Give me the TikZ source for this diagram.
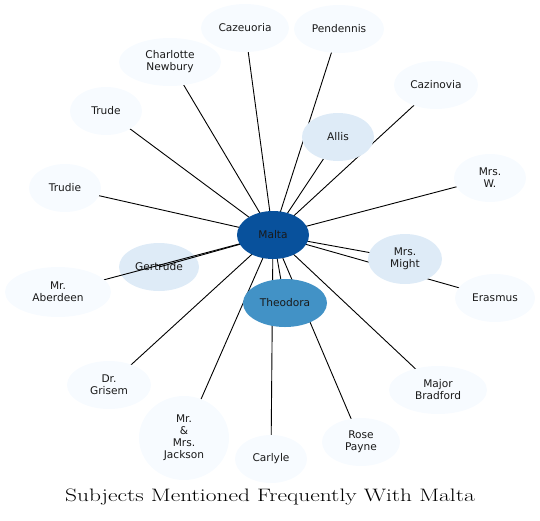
\documentclass[tikz,border=0pt]{standalone}
\usepackage{fontspec}
\newfontfamily\lblfont{DejaVu Sans}
\usetikzlibrary{shapes.geometric}
\pgfdeclarelayer{bg}
\pgfdeclarelayer{edges}
\pgfsetlayers{bg,edges,main}
\definecolor{c0}{HTML}{F7FBFF}
\definecolor{c1}{HTML}{DEEBF7}
\definecolor{c2}{HTML}{4292C6}
\definecolor{c3}{HTML}{08519C}
\tikzset{
  ent/.style={ellipse, inner sep=0pt, draw=none, align=center,
    font=\lblfont\fontsize{10.6}{12}\selectfont, text=black!90},
  edge/.style={draw=black, line width=0.9pt}
}
\begin{document}
\begin{tikzpicture}[x=1pt,y=-1pt]
\useasboundingbox (0,0) rectangle (540,520);
% light nodes
\node[ent, fill=c0, minimum width=88pt, minimum height=48pt] (caz) at (245,28) {Cazeuoria};
\node[ent, fill=c0, minimum width=90pt, minimum height=48pt] (pen) at (339,29) {Pendennis};
\node[ent, fill=c0, minimum width=102pt, minimum height=48pt] (cha) at (170,62) {Charlotte\\Newbury};
\node[ent, fill=c0, minimum width=72pt, minimum height=48pt] (tru) at (106,111) {Trude};
\node[ent, fill=c0, minimum width=72pt, minimum height=48pt] (trd) at (65,188) {Trudie};
\node[ent, fill=c0, minimum width=84pt, minimum height=48pt] (cin) at (436,85) {Cazinovia};
\node[ent, fill=c0, minimum width=72pt, minimum height=48pt] (mrw) at (490,178) {Mrs.\\W.};
\node[ent, fill=c0, minimum width=80pt, minimum height=48pt] (era) at (495,298) {Erasmus};
\node[ent, fill=c0, minimum width=106pt, minimum height=50pt] (abe) at (58,292) {Mr.\\Aberdeen};
\node[ent, fill=c0, minimum width=84pt, minimum height=48pt] (gri) at (109,385) {Dr.\\Grisem};
\node[ent, fill=c0, minimum width=90pt, minimum height=84pt] (jac) at (184,438) {Mr.\\\&\\Mrs.\\Jackson};
\node[ent, fill=c0, minimum width=72pt, minimum height=48pt] (car) at (271,459) {Carlyle};
\node[ent, fill=c0, minimum width=78pt, minimum height=48pt] (ros) at (361,442) {Rose\\Payne};
\node[ent, fill=c0, minimum width=98pt, minimum height=48pt] (maj) at (438,390) {Major\\Bradford};
\node[ent, fill=c1, minimum width=72pt, minimum height=48pt] (all) at (338,137) {Allis};
\node[ent, fill=c1, minimum width=74pt, minimum height=50pt] (mig) at (405,259) {Mrs.\\Might};
\node[ent, fill=c2, minimum width=84pt, minimum height=48pt] (the) at (285,303) {Theodora};
\node[ent, fill=c3, minimum width=72pt, minimum height=48pt] (mal) at (273,235) {Malta};
\begin{pgfonlayer}{bg}
\node[ent, fill=c1, minimum width=80pt, minimum height=48pt] (ger) at (159,267) {Gertrude};
\end{pgfonlayer}
\begin{pgfonlayer}{edges}
\foreach \n in {caz,pen,cha,tru,trd,cin,mrw,era,abe,gri,jac,car,ros,maj,all,mig,the,ger}
  \draw[edge] (mal.center) -- (\n.center);
\end{pgfonlayer}
\node (title) at (270,497) {\scalebox{1.3}[1]{\fontsize{18}{22}\selectfont Subjects Mentioned Frequently With Malta}};
\end{tikzpicture}
\end{document}
